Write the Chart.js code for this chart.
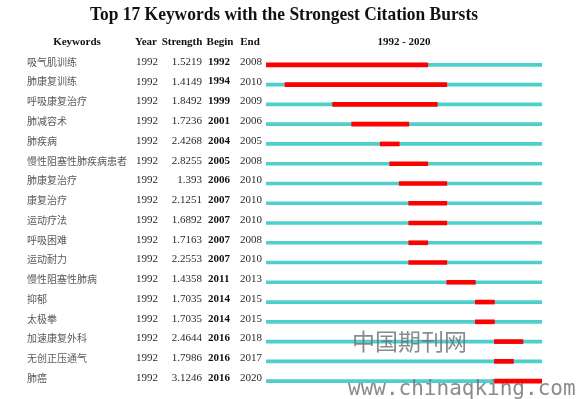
<html>
<head>
  <meta charset="UTF-8">
  <title>Top 17 Keywords with the Strongest Citation Bursts</title>
  <script src="https://cdn.jsdelivr.net/npm/chart.js"></script>
  <style>
    html, body { margin: 0; padding: 0; background: #fff; }
    #wrap { width: 579px; height: 399px; }
  </style>
</head>
<body>
  <div id="wrap"><canvas id="burstChart"></canvas></div>

  <script>
    // --- Data ---
    const keywords = ['吸气肌训练', '肺康复训练', '呼吸康复治疗', '肺减容术', '肺疾病',
      '慢性阻塞性肺疾病患者', '肺康复治疗', '康复治疗', '运动疗法', '呼吸困难', '运动耐力',
      '慢性阻塞性肺病', '抑郁', '太极拳', '加速康复外科', '无创正压通气', '肺癌'];
    const years     = [1992, 1992, 1992, 1992, 1992, 1992, 1992, 1992, 1992, 1992, 1992, 1992, 1992, 1992, 1992, 1992, 1992];
    const strengths = ['1.5219', '1.4149', '1.8492', '1.7236', '2.4268', '2.8255', '1.393', '2.1251', '1.6892',
      '1.7163', '2.2553', '1.4358', '1.7035', '1.7035', '2.4644', '1.7986', '3.1246'];
    const begins    = [1992, 1994, 1999, 2001, 2004, 2005, 2006, 2007, 2007, 2007, 2007, 2011, 2014, 2014, 2016, 2016, 2016];
    const ends      = [2008, 2010, 2009, 2006, 2005, 2008, 2010, 2010, 2010, 2008, 2010, 2013, 2015, 2015, 2018, 2017, 2020];
    const firstYear = 1992;
    const lastYear  = 2020;
    const titleText = 'Top 17 Keywords with the Strongest Citation Bursts';

    // bars span whole years: begin .. end+1
    const burstData = begins.map((b, i) => [b, ends[i] + 1]);
    const baseData  = keywords.map(() => [firstYear, lastYear + 1]);

    const SERIF = '"Liberation Serif", "DejaVu Serif", serif';
    const CJK   = '"Noto Sans CJK SC", sans-serif';

    // --- title, table text + watermark drawn next to the bars ---
    const tablePlugin = {
      id: 'tableText',
      afterDraw(chart) {
        const c = chart.ctx;
        const y = chart.scales.y;
        const area = chart.chartArea;
        c.save();

        // title (drawn by hand so it centres on the whole canvas)
        c.fillStyle = '#111';
        c.font = 'bold 19.5px ' + SERIF;
        c.textAlign = 'left';
        c.textBaseline = 'alphabetic';
        c.fillText(titleText, 90, 20, 388);

        c.textBaseline = 'middle';
        // header row
        c.font = 'bold 11px ' + SERIF;
        c.textAlign = 'center';
        c.fillText('Keywords', 77, 42);
        c.fillText('Year', 146, 42);
        c.fillText('Strength', 182, 42);
        c.fillText('Begin', 220, 42);
        c.fillText('End', 250, 42);
        c.fillText(firstYear + ' - ' + lastYear, (area.left + area.right) / 2, 42);

        keywords.forEach((kw, i) => {
          const ty = y.getPixelForValue(i) - 3;
          c.textAlign = 'left';
          c.fillStyle = '#5a5a5a';
          c.font = '10px ' + CJK;
          c.fillText(kw, 27, ty);
          c.fillStyle = '#2a2a2a';
          c.font = '11px ' + SERIF;
          c.fillText(String(years[i]), 136, ty);
          c.fillText(String(ends[i]), 240, ty);
          c.textAlign = 'right';
          c.fillText(strengths[i], 202, ty);
          c.textAlign = 'left';
          c.font = 'bold 11px ' + SERIF;
          c.fillStyle = '#111';
          c.fillText(String(begins[i]), 208, ty);
        });

        // site watermark
        c.fillStyle = 'rgba(110,110,110,0.8)';
        c.textAlign = 'left';
        c.font = '23px "Noto Sans CJK SC", sans-serif';
        c.fillText('中国期刊网', 352, 341);
        c.font = '21px "DejaVu Sans Mono", monospace';
        c.fillText('www.chinaqking.com', 348, 390);
        c.restore();
      }
    };

    const chart = new Chart(document.getElementById('burstChart'), {
      type: 'bar',
      data: {
        labels: keywords,
        datasets: [
          { label: 'Burst', data: burstData, backgroundColor: '#ff0000', barThickness: 4, grouped: false },
          { label: 'Range', data: baseData, backgroundColor: '#4fcfcc', barThickness: 3, grouped: false }
        ]
      },
      options: {
        indexAxis: 'y',
        responsive: true,
        maintainAspectRatio: false,
        animation: false,
        layout: { padding: { left: 266, right: 37, top: 55, bottom: 8 } },
        scales: {
          x: { min: firstYear, max: lastYear + 1, display: false },
          y: { display: false }
        },
        plugins: {
          legend: { display: false },
          tooltip: { enabled: false },
          title: { display: false }
        }
      },
      plugins: [tablePlugin]
    });
  </script>
</body>
</html>
